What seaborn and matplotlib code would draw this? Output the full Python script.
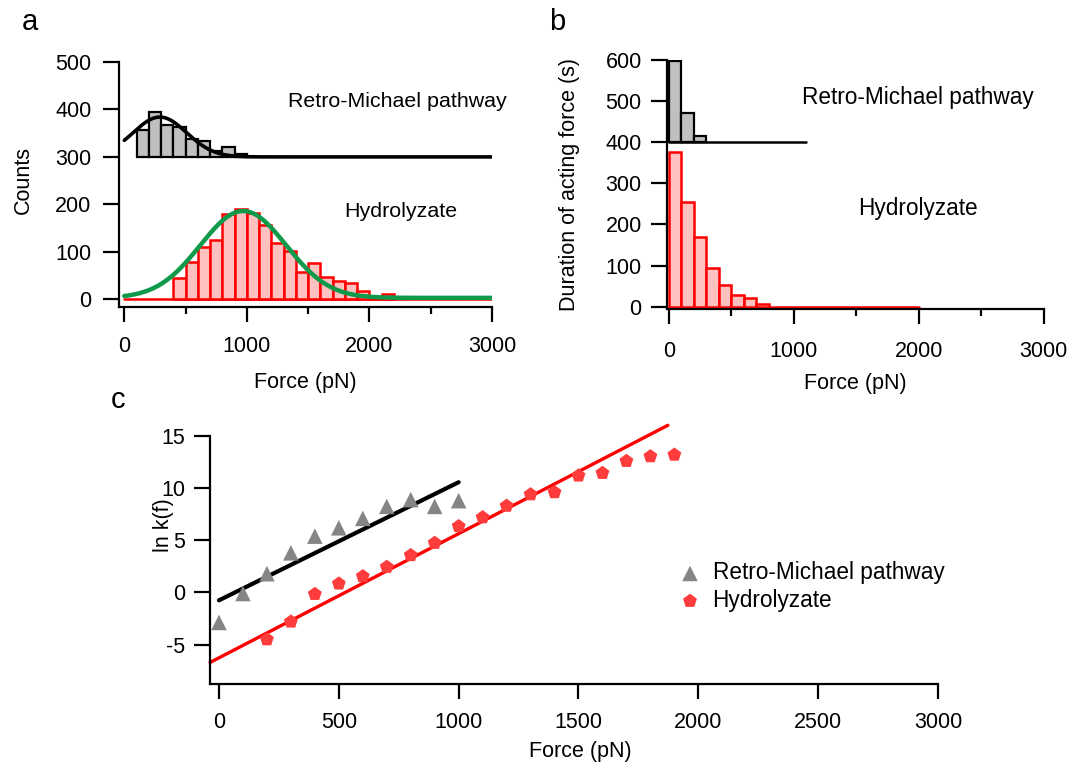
import numpy as np
import pandas as pd
import matplotlib
matplotlib.use("Agg")
import matplotlib.pyplot as plt
import seaborn as sns
from matplotlib.ticker import MultipleLocator

# ---------------- data ----------------
# Panel a: rupture-force histograms (100 pN bins)
a_rm_edges = [100, 200, 300, 400, 500, 600, 700, 800, 900, 1000]
a_rm_counts = [56, 94, 67, 62, 37, 33, 13, 20, 7]
a_rm_offset = 300
a_hy_edges = [400, 500, 600, 700, 800, 900, 1000, 1100, 1200, 1300, 1400, 1500,
              1600, 1700, 1800, 1900, 2000, 2100, 2200]
a_hy_counts = [45, 79, 111, 124, 180, 191, 181, 157, 119, 102, 57, 77,
               46, 39, 34, 18, 0, 11]
# Gaussian fit parameters (y0, A, xc, sigma)
a_rm_fit = (0, 84, 290, 219)
a_hy_fit = (3, 183, 970, 350)

# Panel b: duration of acting force (100 pN bins)
b_rm_edges = [0, 100, 200, 300]
b_rm_counts = [197, 70, 14]
b_rm_offset = 400
b_rm_end = 1100
b_hy_edges = [0, 100, 200, 300, 400, 500, 600, 700, 800]
b_hy_counts = [377, 254, 170, 93, 53, 28, 20, 6]
b_hy_end = 2000

# Panel c: ln k(f) vs force
c_rm_force = [0, 100, 200, 300, 400, 500, 600, 700, 800, 900, 1000]
c_rm_lnk = [-2.87, -0.1, 1.8, 3.8, 5.4, 6.2, 7.1, 8.25, 8.9, 8.25, 8.8]
c_hy_force = [200, 300, 400, 500, 600, 700, 800, 900, 1000, 1100, 1200, 1300,
              1400, 1500, 1600, 1700, 1800, 1900]
c_hy_lnk = [-4.5, -2.8, -0.15, 0.85, 1.55, 2.45, 3.57, 4.75, 6.35, 7.2, 8.3, 9.4,
            9.6, 11.2, 11.45, 12.6, 13.05, 13.2]
# linear fits: (intercept, slope, x_start, x_end)
c_rm_line = (-0.75, 0.01132, 0, 1000)
c_hy_line = (-6.26, 0.0119, -37, 1873)

labels = ["Retro-Michael pathway", "Hydrolyzate"]

# ---------------- style ----------------
sns.set_theme(style="ticks")
plt.rcParams['font.family'] = ['Liberation Sans', 'DejaVu Sans']
plt.rcParams.update({
    "axes.unicode_minus": False,
    "axes.linewidth": 1.6,
    "xtick.major.width": 1.6, "ytick.major.width": 1.6,
    "xtick.minor.width": 1.6,
    "xtick.major.size": 10.5, "ytick.major.size": 11.5,
    "xtick.minor.size": 5,
    "xtick.labelsize": 15.5, "ytick.labelsize": 15.5,
    "axes.labelsize": 15.5,
    "xtick.color": "black", "ytick.color": "black",
    "axes.edgecolor": "black", "text.color": "black", "axes.labelcolor": "black",
})

FS = 15.5
FT = 16.3
FTA = 15.4
PINK = "#ffc0c0"
RED = "#ff0000"
GRAY = "#c0c0c0"
GREEN = "#0e9a4a"

fig = plt.figure(figsize=(10.74, 7.71), dpi=100)
W, H = 1074, 771


def add_axes(left, right, top, bottom):
    return fig.add_axes([left / W, 1 - bottom / H, (right - left) / W, (bottom - top) / H])


def style_axes(ax, xpad, ypad):
    sns.despine(ax=ax)
    ax.tick_params(axis="x", which="both", direction="out", pad=xpad)
    ax.tick_params(axis="y", direction="out", pad=ypad)
    ax.set_facecolor("white")


def gauss(x, p):
    y0, A, xc, s = p
    return y0 + A * np.exp(-(x - xc) ** 2 / (2 * s ** 2))


# ---------------- panel a ----------------
axa = add_axes(119.3, 492, 62, 306.7)
style_axes(axa, 10.5, 8.5)
hy_centers = [(a_hy_edges[i] + a_hy_edges[i + 1]) / 2 for i in range(len(a_hy_counts))]
sns.histplot(x=hy_centers, weights=a_hy_counts, bins=a_hy_edges, ax=axa,
             color=PINK, edgecolor=RED, linewidth=1.8, alpha=1, zorder=2)
axa.plot([0, 3000], [0, 0], color=RED, lw=1.8, zorder=1.9)
rm_centers = [(a_rm_edges[i] + a_rm_edges[i + 1]) / 2 for i in range(len(a_rm_counts))]
axa.bar(rm_centers, a_rm_counts, width=100, bottom=a_rm_offset, color=GRAY,
        edgecolor="black", linewidth=1.6, zorder=2)
xf = np.linspace(0, 3000, 600)
sns.lineplot(x=xf, y=gauss(xf, a_hy_fit), ax=axa, color=GREEN, lw=3.2, zorder=3)
sns.lineplot(x=xf, y=a_rm_offset + gauss(xf, a_rm_fit), ax=axa, color="black", lw=2.6, zorder=3)
axa.set_xlim(-41, 3000)
axa.set_ylim(-15.6, 500)
axa.xaxis.set_major_locator(MultipleLocator(1000))
axa.xaxis.set_minor_locator(MultipleLocator(500))
axa.yaxis.set_major_locator(MultipleLocator(100))
axa.set_xlabel("Force (pN)", fontsize=FS)
axa.set_ylabel("Counts", fontsize=FS)
axa.xaxis.set_label_coords(0.498, -0.265)
axa.yaxis.set_label_coords(-0.228, 0.518)
axa.text(2225, 416, labels[0], ha="center", va="center", fontsize=FTA)
axa.text(2257, 184, labels[1], ha="center", va="center", fontsize=FTA)

# ---------------- panel b ----------------
axb = add_axes(666.7, 1043.7, 60, 309.3)
style_axes(axb, 12, 6.5)
bhy_centers = [(b_hy_edges[i] + b_hy_edges[i + 1]) / 2 for i in range(len(b_hy_counts))]
sns.histplot(x=bhy_centers, weights=b_hy_counts, bins=b_hy_edges, ax=axb,
             color=PINK, edgecolor=RED, linewidth=1.8, alpha=1, zorder=2)
axb.plot([0, b_hy_end], [0, 0], color=RED, lw=1.8, zorder=1.9)
brm_centers = [(b_rm_edges[i] + b_rm_edges[i + 1]) / 2 for i in range(len(b_rm_counts))]
axb.bar(brm_centers, b_rm_counts, width=100, bottom=b_rm_offset, color=GRAY,
        edgecolor="black", linewidth=1.6, zorder=2)
axb.plot([0, b_rm_end], [b_rm_offset, b_rm_offset], color="black", lw=1.8, zorder=1.9)
axb.set_xlim(-18, 3000)
axb.set_ylim(-6.4, 600)
axb.xaxis.set_major_locator(MultipleLocator(1000))
axb.xaxis.set_minor_locator(MultipleLocator(500))
axb.yaxis.set_major_locator(MultipleLocator(100))
axb.set_xlabel("Force (pN)", fontsize=FS)
axb.set_ylabel("Duration of acting force (s)", fontsize=FS)
axb.xaxis.set_label_coords(0.4995, -0.255)
axb.yaxis.set_label_coords(-0.23, 0.4986)
axb.text(1993, 510, labels[0], ha="center", va="center", fontsize=FT)
axb.text(1993, 240, labels[1], ha="center", va="center", fontsize=FT)

# ---------------- panel c ----------------
axc = add_axes(210, 938, 436, 684)
style_axes(axc, 9.5, 6.5)
df_rm = pd.DataFrame({"force": c_rm_force, "lnk": c_rm_lnk})
df_hy = pd.DataFrame({"force": c_hy_force, "lnk": c_hy_lnk})
for p, col in [(c_rm_line, "black"), (c_hy_line, RED)]:
    b0, m, x0, x1 = p
    xs = np.array([x0, x1])
    sns.lineplot(x=xs, y=b0 + m * xs, ax=axc, color=col,
                 lw=3.0 if col == "black" else 2.4, zorder=2, clip_on=False)
sns.scatterplot(data=df_rm, x="force", y="lnk", ax=axc, marker="^", s=125,
                color="#858585", edgecolor="none", label=labels[0], zorder=3)
sns.scatterplot(data=df_hy, x="force", y="lnk", ax=axc, marker="p", s=110,
                color="#ff3c3c", edgecolor="none", label=labels[1], zorder=3)
axc.set_xlim(-37.5, 3000)
axc.set_ylim(-8.77, 15)
axc.xaxis.set_major_locator(MultipleLocator(500))
axc.set_yticks([-5, 0, 5, 10, 15])
axc.set_xlabel("Force (pN)", fontsize=FS)
axc.set_ylabel("ln k(f)", fontsize=FS)
axc.xaxis.set_label_coords(0.508, -0.228)
axc.yaxis.set_label_coords(-0.05, 0.641)
axc.legend(loc="upper left", bbox_to_anchor=(0.622, 0.54), frameon=False, fontsize=FT,
           handletextpad=0.3, labelspacing=0.2, borderpad=0, handlelength=1.4)

# panel letters
fig.text(30 / W, 1 - 22 / H, "a", fontsize=21, ha="center", va="center")
fig.text(557 / W, 1 - 22 / H, "b", fontsize=21, ha="center", va="center")
fig.text(118 / W, 1 - 400 / H, "c", fontsize=21, ha="center", va="center")

fig.savefig("out.png", dpi=100, facecolor="white")
